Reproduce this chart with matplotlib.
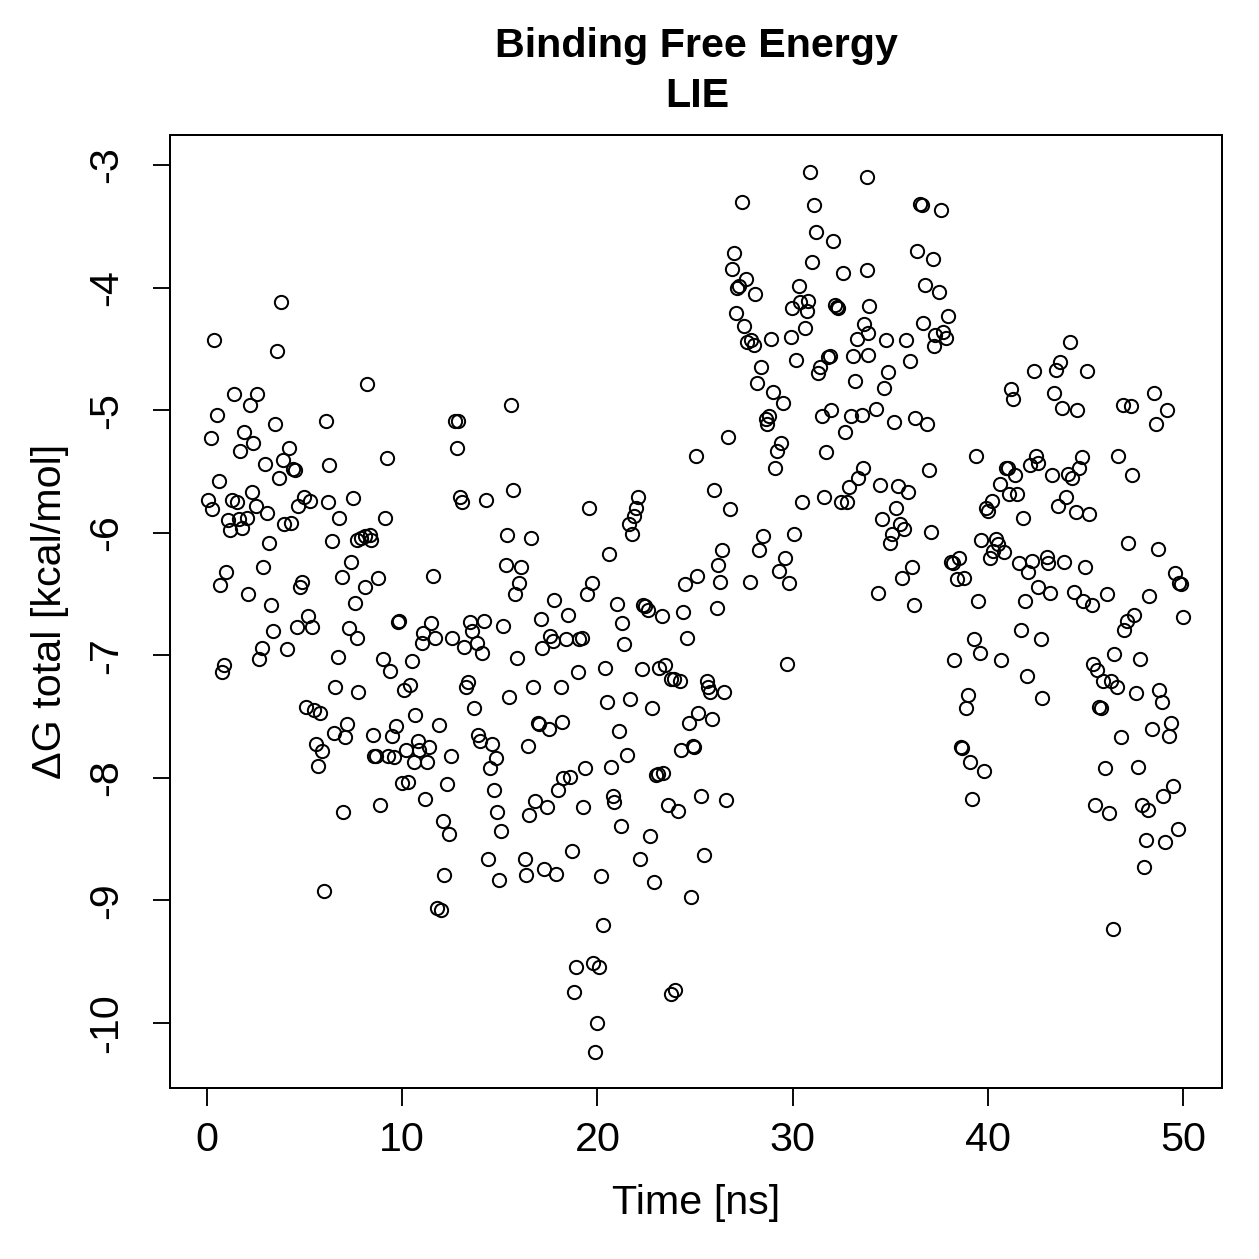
import numpy as np
import matplotlib
matplotlib.use("Agg")
from matplotlib import pyplot as plt

plt.rcParams['font.family'] = ['Liberation Sans', 'DejaVu Sans']
plt.rcParams['axes.unicode_minus'] = False

# time [ns] and total binding free energy [kcal/mol]
time = [
    3.79, 0.36, 3.59, 1.38, 2.56, 2.20, 0.51, 3.48, 6.10, 0.20, 1.90, 2.36, 1.69, 4.20, 2.97, 3.89,
    4.41, 4.51, 6.25, 3.69, 0.61, 0.05, 0.26, 1.28, 1.54, 2.31, 2.51, 3.07, 4.97, 4.66, 5.28, 6.20,
    7.48, 6.76, 1.08, 1.64, 2.05, 1.18, 1.79, 3.94, 4.30, 3.18, 6.40, 7.68, 7.38, 2.87, 0.97, 6.92,
    0.67, 2.10, 4.87, 4.76, 3.28, 7.58,
    5.17, 4.61, 5.38, 3.38, 7.27, 7.68, 2.82, 2.66, 4.10, 6.71, 0.87, 0.77, 6.56, 7.74, 5.07, 5.48,
    5.79, 7.17, 6.51, 7.07, 5.58, 5.89, 5.69, 6.97, 5.99,
    8.20, 15.57, 12.70, 12.86, 9.22, 12.81, 15.68, 12.96, 13.06, 14.29, 9.12, 15.37, 16.60, 7.89,
    8.09, 8.35, 8.40, 15.32, 16.09, 8.76, 8.09, 11.58, 15.98, 15.78,
    9.84, 9.78, 11.48, 13.47, 14.19, 15.16, 11.07, 11.68, 11.01, 12.55, 13.58, 13.17, 13.83, 14.09,
    15.88, 9.02, 9.38, 10.50, 10.40, 10.09, 13.37, 13.27, 15.47, 16.70, 13.68, 10.66, 11.89, 9.68,
    8.50, 9.48, 13.88, 13.99, 14.60, 16.44, 10.81, 10.86, 10.19, 11.37, 8.56, 8.66, 9.27, 9.58,
    10.60, 11.27, 12.50, 14.81, 14.50, 9.99, 10.30, 12.30, 14.70, 11.17, 8.86, 14.86, 16.50, 12.09,
    12.40, 15.06, 14.40, 16.29, 12.14, 14.96, 16.34, 11.78, 11.99,
    25.05, 22.08, 19.57, 21.98, 21.87, 21.62, 21.77, 20.59, 19.72, 19.47, 24.49, 25.10, 17.78, 21.00,
    22.34, 22.44, 22.59, 23.31, 24.39, 17.11, 18.49, 21.26, 17.57, 17.73, 17.16, 18.39, 19.06, 19.21,
    21.36, 24.59, 20.39, 19.01, 22.28, 23.16, 23.46, 23.77, 23.92, 24.23, 18.14, 20.49, 21.67, 22.80,
    16.96, 17.01, 17.52, 18.19, 21.11, 24.69, 25.15, 21.52, 24.28, 24.90, 24.95, 19.36, 20.70, 18.24,
    18.60, 17.98, 23.00, 23.11, 23.36, 16.80, 17.42, 19.26, 20.80, 20.85, 23.62, 24.13, 21.21, 22.70,
    25.31, 18.70, 17.26, 17.88, 20.18, 22.18, 22.90, 24.80, 25.46, 20.29, 18.90, 19.77, 20.08, 18.80,
    23.77, 23.98, 19.98, 19.88,
    30.89, 33.81, 27.41, 31.10, 31.20, 32.07, 27.00, 26.90, 30.99, 32.58, 33.81, 27.61, 27.25, 27.15,
    28.07, 30.33, 29.97, 30.38, 30.79, 30.74, 32.17, 32.27, 32.33, 33.91, 27.10, 27.51, 33.66, 33.86,
    33.30, 27.66, 27.87, 28.02, 28.89, 29.92, 30.64, 30.17, 33.09, 33.86, 31.81, 31.92, 31.40, 31.30,
    28.38, 28.18, 33.20, 29.00, 29.51, 28.64, 28.79, 28.69, 31.51, 31.97, 32.99, 33.56, 32.68, 26.69,
    29.41, 29.20, 29.10, 31.71, 33.61, 33.35, 32.89, 31.61, 32.48, 32.79, 30.48, 25.97, 26.79, 30.07,
    28.48, 28.28, 26.38, 26.18, 29.61, 29.30, 26.28, 27.82, 29.82, 26.13,
    29.71, 25.61, 25.67, 25.77, 26.49, 25.87, 26.59,
    36.53, 36.63, 37.60, 36.37, 37.19, 36.78, 37.50, 37.96, 36.68, 34.78, 35.81, 37.30, 37.70, 37.86,
    37.24, 36.01, 34.89, 34.68, 34.27, 35.19, 36.27, 36.89, 42.37, 41.19, 41.29, 39.40, 36.99, 34.48,
    35.40, 35.91, 35.30, 34.58, 35.50, 35.71, 35.09, 34.99, 37.09, 42.47, 42.16, 42.57, 40.93, 41.03,
    41.39, 40.62, 41.08, 41.49, 40.21, 39.90, 40.01, 41.80, 39.65, 40.42, 40.52, 40.26, 40.83, 40.11,
    41.59, 42.26, 42.06, 38.11, 38.22, 38.52, 38.42, 38.78, 36.12, 35.60, 34.38, 36.22, 39.50, 41.91,
    42.57,
    41.70, 42.73, 39.29, 39.60, 38.27, 40.68, 42.01, 42.78, 38.99, 38.88, 38.63, 38.68, 39.09, 39.81,
    39.19,
    44.21, 43.70, 43.49, 45.08, 43.39, 43.80, 44.57, 46.93, 47.34, 48.51, 49.18, 48.62, 44.83, 44.67,
    43.29, 44.11, 44.32, 46.67, 47.39, 44.01, 43.60, 44.52, 45.18, 47.18, 48.72, 43.03, 43.08, 43.90,
    44.98, 49.59, 49.80, 49.90, 43.19, 44.42, 44.88, 45.34, 46.11, 48.26,
    47.49, 47.13, 46.98, 50.00, 46.47, 47.80, 45.39, 45.59, 45.90, 46.31, 46.62, 47.59, 48.77, 48.92,
    45.70, 45.80, 48.41, 49.39, 49.28, 46.82, 46.00, 47.69, 49.49, 48.98, 45.49, 46.21, 47.90, 48.21,
    49.74, 48.10, 49.08, 48.00, 46.41,
]
dg = [
    -4.12, -4.43, -4.52, -4.87, -4.87, -4.96, -5.04, -5.11, -5.09, -5.23, -5.18, -5.27, -5.33, -5.31, -5.44, -5.41,
    -5.48, -5.49, -5.45, -5.55, -5.58, -5.73, -5.81, -5.73, -5.75, -5.67, -5.78, -5.84, -5.71, -5.78, -5.74, -5.75,
    -5.72, -5.88, -5.90, -5.89, -5.88, -5.98, -5.96, -5.93, -5.92, -6.08, -6.07, -6.06, -6.24, -6.28, -6.32, -6.36,
    -6.43, -6.50, -6.40, -6.44, -6.59, -6.57,
    -6.68, -6.77, -6.77, -6.80, -6.78, -6.86, -6.94, -7.03, -6.95, -7.01, -7.08, -7.14, -7.26, -7.30, -7.42, -7.45,
    -7.47, -7.56, -7.63, -7.67, -7.72, -7.78, -7.90, -8.28, -8.92,
    -4.79, -4.96, -5.09, -5.09, -5.39, -5.31, -5.65, -5.71, -5.75, -5.73, -5.88, -6.02, -6.04, -6.04,
    -6.03, -6.02, -6.06, -6.26, -6.28, -6.37, -6.44, -6.35, -6.41, -6.50,
    -6.72, -6.73, -6.74, -6.73, -6.72, -6.76, -6.82, -6.86, -6.90, -6.86, -6.80, -6.93, -6.90, -6.98,
    -7.02, -7.03, -7.13, -7.05, -7.24, -7.28, -7.22, -7.26, -7.34, -7.26, -7.43, -7.49, -7.57, -7.58,
    -7.65, -7.66, -7.65, -7.70, -7.72, -7.74, -7.70, -7.77, -7.77, -7.75, -7.82, -7.82, -7.82, -7.83,
    -7.87, -7.87, -7.82, -7.84, -7.92, -8.04, -8.03, -8.05, -8.10, -8.17, -8.22, -8.28, -8.30, -8.35,
    -8.46, -8.43, -8.66, -8.66, -8.79, -8.83, -8.79, -9.06, -9.08,
    -5.37, -5.71, -5.80, -5.80, -5.86, -5.93, -6.01, -6.17, -6.41, -6.50, -6.42, -6.35, -6.55, -6.58,
    -6.59, -6.60, -6.63, -6.68, -6.65, -6.70, -6.67, -6.74, -6.84, -6.88, -6.94, -6.87, -6.87, -6.86,
    -6.91, -6.86, -7.10, -7.14, -7.11, -7.10, -7.08, -7.19, -7.19, -7.21, -7.26, -7.38, -7.36, -7.43,
    -7.55, -7.56, -7.60, -7.54, -7.62, -7.55, -7.47, -7.81, -7.77, -7.74, -7.75, -7.92, -7.91, -8.00,
    -7.99, -8.10, -7.98, -7.97, -7.96, -8.19, -8.24, -8.24, -8.15, -8.20, -8.22, -8.27, -8.39, -8.47,
    -8.15, -8.60, -8.74, -8.78, -8.80, -8.66, -8.85, -8.97, -8.63, -9.20, -9.54, -9.51, -9.54, -9.75,
    -9.76, -9.73, -10.00, -10.24,
    -3.06, -3.10, -3.30, -3.33, -3.55, -3.62, -3.72, -3.85, -3.79, -3.88, -3.86, -3.93, -3.99, -4.00,
    -4.05, -3.99, -4.17, -4.12, -4.11, -4.19, -4.14, -4.16, -4.17, -4.15, -4.21, -4.31, -4.30, -4.37,
    -4.42, -4.44, -4.43, -4.47, -4.42, -4.40, -4.33, -4.59, -4.56, -4.55, -4.57, -4.56, -4.65, -4.70,
    -4.65, -4.78, -4.76, -4.85, -4.94, -5.07, -5.05, -5.11, -5.05, -5.00, -5.05, -5.04, -5.18, -5.22,
    -5.27, -5.33, -5.47, -5.34, -5.47, -5.55, -5.63, -5.71, -5.75, -5.75, -5.75, -5.65, -5.81, -6.01,
    -6.03, -6.14, -6.14, -6.26, -6.21, -6.31, -6.40, -6.40, -6.41, -6.61,
    -7.07, -7.21, -7.26, -7.30, -7.30, -7.52, -8.18,
    -3.32, -3.33, -3.37, -3.70, -3.77, -3.98, -4.04, -4.23, -4.29, -4.43, -4.43, -4.39, -4.36, -4.41,
    -4.48, -4.60, -4.69, -4.82, -4.99, -5.10, -5.06, -5.11, -4.68, -4.83, -4.91, -5.37, -5.49, -5.61,
    -5.62, -5.67, -5.80, -5.89, -5.93, -5.97, -6.01, -6.08, -5.99, -5.37, -5.45, -5.43, -5.47, -5.47,
    -5.53, -5.60, -5.68, -5.68, -5.74, -5.80, -5.82, -5.88, -6.06, -6.05, -6.09, -6.15, -6.16, -6.21,
    -6.25, -6.23, -6.32, -6.24, -6.25, -6.21, -6.38, -6.37, -6.28, -6.37, -6.49, -6.59, -6.56, -6.56,
    -6.44,
    -6.79, -6.87, -6.87, -6.98, -7.04, -7.04, -7.17, -7.35, -7.32, -7.43, -7.75, -7.76, -7.87, -7.94,
    -8.17,
    -4.44, -4.61, -4.67, -4.68, -4.86, -4.98, -5.00, -4.96, -4.97, -4.86, -5.00, -5.11, -5.38, -5.47,
    -5.53, -5.52, -5.55, -5.37, -5.53, -5.71, -5.78, -5.83, -5.85, -6.08, -6.13, -6.20, -6.25, -6.24,
    -6.28, -6.33, -6.41, -6.42, -6.49, -6.48, -6.56, -6.59, -6.50, -6.52,
    -6.67, -6.72, -6.79, -6.69, -6.99, -7.03, -7.07, -7.12, -7.21, -7.21, -7.26, -7.31, -7.28, -7.38,
    -7.42, -7.43, -7.60, -7.55, -7.66, -7.67, -7.92, -7.91, -8.07, -8.15, -8.22, -8.29, -8.22, -8.26,
    -8.42, -8.51, -8.52, -8.73, -9.23,
]

fs = 16.5

fig = plt.figure(figsize=(1259 / 180, 1259 / 180), dpi=180)
ax = fig.add_axes([0.135, 0.1358, 0.8357, 0.757])

ax.plot(time, dg, linestyle='none', marker='o', markersize=5.3,
        markerfacecolor='none', markeredgecolor='black', markeredgewidth=0.8)

ax.set_xlim(-1.9, 52.0)
ax.set_ylim(-10.53, -2.755)
ax.set_xticks([0, 10, 20, 30, 40, 50])
ax.set_yticks(np.arange(-10, -2, 1))
ax.tick_params(direction='out', length=7, width=0.75, labelsize=fs)
ax.tick_params(axis='x', pad=6)
ax.tick_params(axis='y', pad=11)
for lab in ax.get_yticklabels():
    lab.set_rotation(90)
    lab.set_va('center')
for sp in ax.spines.values():
    sp.set_linewidth(0.8)

ax.set_xlabel('Time [ns]', fontsize=fs, va='center')
ax.xaxis.set_label_coords(0.5, -0.1207)
ax.set_ylabel('\u0394G total [kcal/mol]', fontsize=fs, va='center')
ax.yaxis.set_label_coords(-0.114, 0.5)

fig.text(0.5536, 1 - 46 / 1259, 'Binding Free Energy', ha='center', va='center',
         fontsize=fs, fontweight='bold')
fig.text(0.5536, 1 - 96 / 1259, 'LIE', ha='center', va='center',
         fontsize=fs, fontweight='bold')

fig.savefig('out.png', dpi=180)
